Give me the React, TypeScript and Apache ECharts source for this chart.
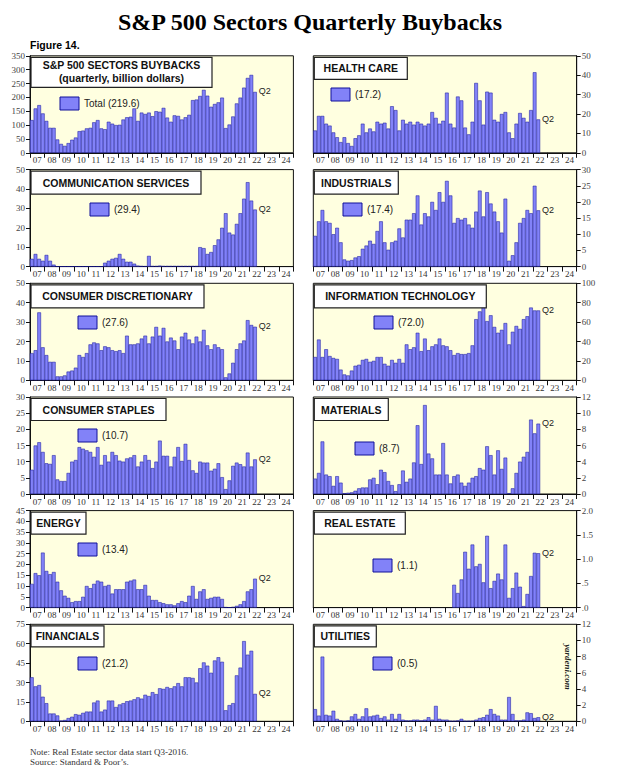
import React, { useEffect, useRef } from "react";
import * as echarts from "echarts";

// ---------- categories ----------
const firstYear = 2007;
const lastYear = 2024;
const yearList: number[] = [];
for (let y = firstYear; y <= lastYear; y++) yearList.push(y);
const yearLabels = yearList.map((y) => String(y).slice(2));
const quarterLabels: string[] = [];
yearList.forEach((y) => [1, 2, 3, 4].forEach((q) => quarterLabels.push(`${y}Q${q}`)));

// ---------- data (billion dollars, 2007Q1 .. 2022Q2) ----------
const totalValues = [
  118, 160, 172, 142, 115, 90, 90, 48, 32, 25, 35, 47, 55, 78, 80, 88,
  90, 110, 118, 88, 85, 112, 105, 100, 101, 120, 128, 130, 160, 115, 145, 140,
  145, 132, 150, 148, 162, 127, 112, 135, 133, 120, 128, 137, 190, 192, 205, 227,
  206, 166, 176, 182, 199, 89, 102, 131, 178, 199, 235, 270, 281, 219.6,
];
const healthCareValues = [
  11.5, 19, 19, 15, 14, 10.5, 8, 5.5, 8, 5, 3.5, 7.5, 9, 15, 10.5, 12.5,
  11, 16, 15, 15.5, 12.5, 24, 22, 11.5, 17, 15, 16, 14.5, 16, 15, 14, 15,
  21, 18, 15, 16.5, 31, 15, 13, 29, 27, 13, 9.5, 16, 36, 27, 14.5, 31.5,
  31, 17, 16, 20, 21, 10.5, 7.5, 15, 20.5, 18, 16, 22, 41.5, 17.2,
];
const communicationValues = [
  4, 6.5, 4, 3, 6, 3, 1, 0.1, 0.1, 0.1, 0.1, 0.1, 0.1, 0.1, 0.1, 0.1,
  0.1, 0.1, 0.1, 0.1, 2, 3, 4, 4.5, 6.5, 4, 2.5, 2.5, 1.5, 0.5, 0.3, 0.2,
  5.5, 0.3, 0.3, 0.5, 0.3, 0.3, 0.3, 0.3, 0.3, 0.3, 0.3, 0.3, 0.3, 0.3, 10, 9.5,
  6.5, 7.5, 11, 14, 20, 27.5, 17.5, 16.5, 22, 27.5, 35, 43.5, 34, 29.4,
];
const industrialsValues = [
  9.5, 14, 17.5, 14, 13.5, 10, 12, 7.5, 2.2, 1.8, 2, 2.8, 3.2, 5.5, 6.5, 8,
  7, 11, 14, 7.5, 5.2, 7.5, 8, 11.8, 9, 14.5, 14.5, 16.5, 22, 13, 16.5, 15.5,
  20, 17.5, 23, 20, 26.5, 22, 13.5, 15, 14.5, 15, 13, 12, 17, 23.5, 15.5, 23,
  19.5, 17, 14, 10.5, 21, 1.8, 3.5, 7.5, 13.5, 15, 17.5, 16.5, 25, 17.4,
];
const consumerDiscretionaryValues = [
  14, 15.5, 35, 17, 13, 9.5, 9.5, 2, 2, 2.5, 4.5, 5, 6.5, 13, 12, 14,
  18.5, 19.5, 19, 15.5, 17.5, 17, 15.5, 15, 15.5, 14, 23, 18.5, 18.5, 19, 21.5, 23,
  19, 22.5, 27.5, 23, 27, 20, 22, 20.5, 16, 22.5, 24.5, 21, 19, 22.5, 20, 26,
  18, 16, 18.5, 17, 16, 1.5, 3.5, 9, 16, 19, 20.5, 31, 28.5, 27.6,
];
const informationTechnologyValues = [
  24, 42, 24, 32, 25, 23, 22, 11, 6, 5, 10, 15, 16, 21, 22, 19,
  20, 24, 24, 17, 15, 21, 18, 22, 18, 37, 32, 34, 49, 30, 43, 31,
  35, 37, 43, 36, 35, 31, 26, 28, 27, 27, 28, 36, 63, 71, 76, 61,
  67, 55, 49, 52, 59, 37, 50, 56, 53, 63, 66, 75, 72, 72.0,
];
const consumerStaplesValues = [
  7.5, 15, 16, 13, 9.5, 9.3, 12, 4.5, 4, 4, 6.5, 10, 10.5, 14.5, 14, 13.5,
  13, 11.5, 14.5, 9, 12, 10, 13, 12, 10.3, 10, 11, 11.3, 12, 8.5, 10, 12,
  10.5, 8, 10, 16.5, 11.8, 11.8, 8.5, 11.5, 14.5, 10.2, 15.5, 10.5, 7.3, 6.5, 10, 9.7,
  9.7, 7.2, 7.8, 9.5, 5.2, 1.5, 4.2, 8.7, 9.7, 9.2, 8.5, 12.8, 8.5, 10.7,
];
const materialsValues = [
  1.9, 2.6, 6.5, 2.4, 2.2, 1, 2.2, 1.4, 0.1, 0.15, 0.2, 0.4, 0.7, 0.8, 0.8, 1.8,
  2, 1.2, 3, 2.7, 1.6, 1.1, 0.35, 1.2, 2.9, 1.5, 1.9, 3.9, 8.5, 3.7, 11, 5,
  4.4, 2.4, 2.4, 6.3, 2.4, 1.3, 2.2, 2.4, 1.4, 1, 1.4, 2, 2.2, 3.2, 3, 5.9,
  4.8, 2.4, 5.4, 3.1, 4.5, 0.1, 0.7, 2.6, 4, 4.6, 5.2, 9.2, 7.5, 8.7,
];
const energyValues = [
  11, 16, 15, 25.5, 17, 15.5, 16.5, 12, 8, 5.5, 4.5, 2.5, 3, 3, 5, 10,
  9, 11, 12.5, 12, 10, 10.5, 6.5, 8.5, 8.5, 8.5, 12, 12.5, 13, 8.5, 8.5, 10.5,
  5.5, 3.5, 3.5, 2.5, 2, 1.5, 1.5, 1, 2, 3, 2.5, 5.5, 10, 4, 7.5, 8.5,
  4, 4.5, 5, 5, 4, 0.2, 0.1, 0.3, 0.8, 1.5, 3, 7.5, 8.5, 13.4,
];
// Real Estate starts 2016Q3 (index 38)
const realEstateStartIndex = 38;
const realEstateValues = [
  0.47, 0.3, 0.58, 1.15, 0.8, 1.3, 0.85, 0.9, 0.52, 1.48, 0.4, 0.55,
  0.7, 0.58, 1.3, 0.2, 0.4, 0.72, 0.43, 0.03, 0.28, 0.65, 1.13, 1.12,
];
const financialsValues = [
  34, 27, 28, 19, 14, 6, 6, 4.5, 0.5, 1, 2.5, 3.5, 5.5, 5, 6.5, 7.5,
  7.5, 14.5, 16, 7.5, 9, 16, 16, 11, 13, 14, 15.5, 16, 17, 18.5, 17.5, 20.5,
  19.5, 22.5, 21, 25.5, 25, 26.5, 25.5, 27, 29.5, 27, 34, 34, 33.5, 30, 41, 45.5,
  43, 37.5, 47, 49.5, 46, 8.5, 12.5, 14, 35.5, 41.5, 62, 51.5, 54.5, 21.2,
];
const utilitiesValues = [
  1.5, 0.7, 8, 0.8, 0.7, 1.3, 0.3, 0.1, 0.02, 0.1, 0.6, 0.9, 0.3, 0.6, 1.6, 0.6,
  0.7, 0.8, 0.4, 0.6, 0.2, 0.9, 0.3, 0.9, 0.2, 0.1, 0.1, 0.2, 0.2, 0.1, 0.2, 0.5,
  0.2, 1.9, 0.3, 0.2, 0.2, 0.05, 0.05, 0.1, 0.3, 0.05, 0.05, 0.05, 0.2, 0.4, 0.5, 0.8,
  1.5, 0.9, 0.7, 0.2, 0.2, 3, 0.9, 0.1, 0.1, 0.2, 1.1, 1.0, 0.4, 0.5,
];

const panelTitles = [
  ["S&P 500 SECTORS BUYBACKS", "(quarterly, billion dollars)"],
  ["HEALTH CARE"],
  ["COMMUNICATION SERVICES"],
  ["INDUSTRIALS"],
  ["CONSUMER DISCRETIONARY"],
  ["INFORMATION TECHNOLOGY"],
  ["CONSUMER STAPLES"],
  ["MATERIALS"],
  ["ENERGY"],
  ["REAL ESTATE"],
  ["FINANCIALS"],
  ["UTILITIES"],
];
const legendLabels = [
  "Total (219.6)", "(17.2)", "(29.4)", "(17.4)", "(27.6)", "(72.0)",
  "(10.7)", "(8.7)", "(13.4)", "(1.1)", "(21.2)", "(0.5)",
];
const panelSeries = [
  { values: totalValues, start: 0 },
  { values: healthCareValues, start: 0 },
  { values: communicationValues, start: 0 },
  { values: industrialsValues, start: 0 },
  { values: consumerDiscretionaryValues, start: 0 },
  { values: informationTechnologyValues, start: 0 },
  { values: consumerStaplesValues, start: 0 },
  { values: materialsValues, start: 0 },
  { values: energyValues, start: 0 },
  { values: realEstateValues, start: realEstateStartIndex },
  { values: financialsValues, start: 0 },
  { values: utilitiesValues, start: 0 },
];
const axisMax = [350, 50, 50, 30, 50, 100, 30, 12, 45, 2, 75, 12];
const axisStep = [50, 10, 10, 5, 10, 20, 5, 2, 5, 0.5, 15, 2];

// ---------- layout (pixels) ----------
const colLeft = [30, 313.3];
const plotW = 263.4;
const plotH = 97;
const rowTop = [55.8, 169.6, 283.3, 397, 510.6, 624.3];
// title box width/height per panel
const boxSize = [
  [181, 30], [93, 22], [170, 23], [84, 23], [173, 23], [172, 23],
  [135, 22], [74, 22], [55, 22], [91, 22], [73, 21], [62, 21],
];
// legend swatch top-left
const swatchPos = [
  [60, 97], [331, 88], [90, 203], [343, 203], [78, 316], [374, 316],
  [78, 429], [355, 442], [78, 543], [373, 559], [78, 657], [373, 657],
];

const BAR_FILL = "#8282F8";
const BAR_EDGE = "#10109A";
const SERIF = '"Liberation Serif", "Times New Roman", serif';
const SANS = '"Liberation Sans", Arial, sans-serif';

function buildOption() {
  const grid: any[] = [];
  const xAxis: any[] = [];
  const yAxis: any[] = [];
  const series: any[] = [];
  const graphic: any[] = [];

  panelSeries.forEach((ps, i) => {
    const col = i % 2;
    const row = Math.floor(i / 2);
    const left = colLeft[col];
    const top = rowTop[row];
    grid.push({
      left, top, width: plotW, height: plotH,
      show: true, backgroundColor: "#FFFFE0", borderColor: "#111", borderWidth: 1,
    });
    // quarter axis (hidden) for bars
    xAxis.push({
      type: "category", gridIndex: i, data: quarterLabels, show: false, boundaryGap: true,
    });
    // year axis for ticks and labels
    xAxis.push({
      type: "category", gridIndex: i, data: yearLabels, position: "bottom", boundaryGap: true,
      axisLine: { show: true, lineStyle: { color: "#111", width: 1 } },
      axisTick: { show: true, length: 5, alignWithLabel: false, lineStyle: { color: "#111" } },
      axisLabel: { interval: 0, fontFamily: SERIF, fontSize: 9, color: "#333", margin: 3 },
      splitLine: { show: false },
    });
    yAxis.push({
      type: "value", gridIndex: i, min: 0, max: axisMax[i], interval: axisStep[i],
      position: col === 0 ? "left" : "right",
      axisLine: { show: true, lineStyle: { color: "#111", width: 1 } },
      axisTick: { show: true, length: 4, lineStyle: { color: "#111" } },
      splitLine: { show: false },
      axisLabel: {
        fontFamily: SERIF, fontSize: 9, color: "#444", margin: 5,
        formatter: (v: number) => {
          if (axisStep[i] < 1) {
            const s = v.toFixed(1);
            return s.startsWith("0") ? s.slice(1) : s;
          }
          return String(v);
        },
      },
    });
    const data: any[] = quarterLabels.map(() => null);
    ps.values.forEach((v, k) => {
      const idx = ps.start + k;
      const isLast = k === ps.values.length - 1;
      data[idx] = isLast
        ? {
            value: v,
            label: {
              show: true, formatter: "Q2", position: [5.5, -5],
              fontFamily: SANS, fontSize: 9, color: "#222",
            },
          }
        : v;
    });
    series.push({
      type: "bar", xAxisIndex: 2 * i, yAxisIndex: i, data,
      barCategoryGap: "0%", barGap: "0%",
      itemStyle: { color: BAR_FILL, borderColor: BAR_EDGE, borderWidth: 0.5 },
      emphasis: { disabled: true },
    });

    // title box
    const [bw, bh] = boxSize[i];
    const bx = left + 1;
    const by = top + 1.5;
    graphic.push({
      type: "rect", z: 100, shape: { x: bx, y: by, width: bw, height: bh },
      style: { fill: "#FFFFFF", stroke: "#222", lineWidth: 1.2 },
    });
    const lines = panelTitles[i];
    lines.forEach((t, li) => {
      const cy = lines.length === 1 ? by + bh / 2 : by + 8 + li * 13;
      graphic.push({
        type: "text", z: 101, x: bx + bw / 2, y: cy,
        style: {
          text: t, font: `bold 10.5px ${SANS}`, fill: "#111",
          textAlign: "center", textVerticalAlign: "middle", align: "center", verticalAlign: "middle",
        },
      });
    });
    // legend swatch
    const [sx, sy] = swatchPos[i];
    graphic.push({
      type: "rect", z: 100, shape: { x: sx, y: sy, width: 19, height: 13 },
      style: { fill: BAR_FILL, stroke: BAR_EDGE, lineWidth: 1 },
    });
    graphic.push({
      type: "text", z: 101, x: sx + 24, y: sy + 6,
      style: {
        text: legendLabels[i], font: `10px ${SANS}`, fill: "#222",
        textAlign: "left", textVerticalAlign: "middle", align: "left", verticalAlign: "middle",
      },
    });
  });

  graphic.push({
    type: "text", x: 310, y: 22,
    style: {
      text: "S&P 500 Sectors Quarterly Buybacks", font: `bold 24px ${SERIF}`, fill: "#000",
      textAlign: "center", textVerticalAlign: "middle", align: "center", verticalAlign: "middle",
    },
  });
  graphic.push({
    type: "text", x: 30, y: 45,
    style: {
      text: "Figure 14.", font: `bold 10.5px ${SANS}`, fill: "#000",
      textAlign: "left", textVerticalAlign: "middle", align: "left", verticalAlign: "middle",
    },
  });
  graphic.push({
    type: "text", x: 568, y: 667, rotation: -Math.PI / 2, z: 101,
    style: {
      text: "yardeni.com", font: `italic bold 9px ${SERIF}`, fill: "#222",
      textAlign: "center", textVerticalAlign: "middle", align: "center", verticalAlign: "middle",
    },
  });
  graphic.push({
    type: "text", x: 30, y: 752,
    style: {
      text: "Note: Real Estate sector data start Q3-2016.", font: `9px ${SERIF}`, fill: "#333",
      textAlign: "left", textVerticalAlign: "middle", align: "left", verticalAlign: "middle",
    },
  });
  graphic.push({
    type: "text", x: 30, y: 762,
    style: {
      text: "Source: Standard & Poor\u2019s.", font: `9px ${SERIF}`, fill: "#333",
      textAlign: "left", textVerticalAlign: "middle", align: "left", verticalAlign: "middle",
    },
  });

  return {
    animation: false,
    backgroundColor: "#FFFFFF",
    grid, xAxis, yAxis, series, graphic,
  };
}

export default function App() {
  const ref = useRef<HTMLDivElement>(null);
  useEffect(() => {
    document.body.style.margin = "0";
    if (!ref.current) return;
    const chart = echarts.init(ref.current, undefined, { renderer: "svg" });
    chart.setOption(buildOption());
    return () => chart.dispose();
  }, []);
  return <div ref={ref} style={{ width: 620, height: 771 }} />;
}
